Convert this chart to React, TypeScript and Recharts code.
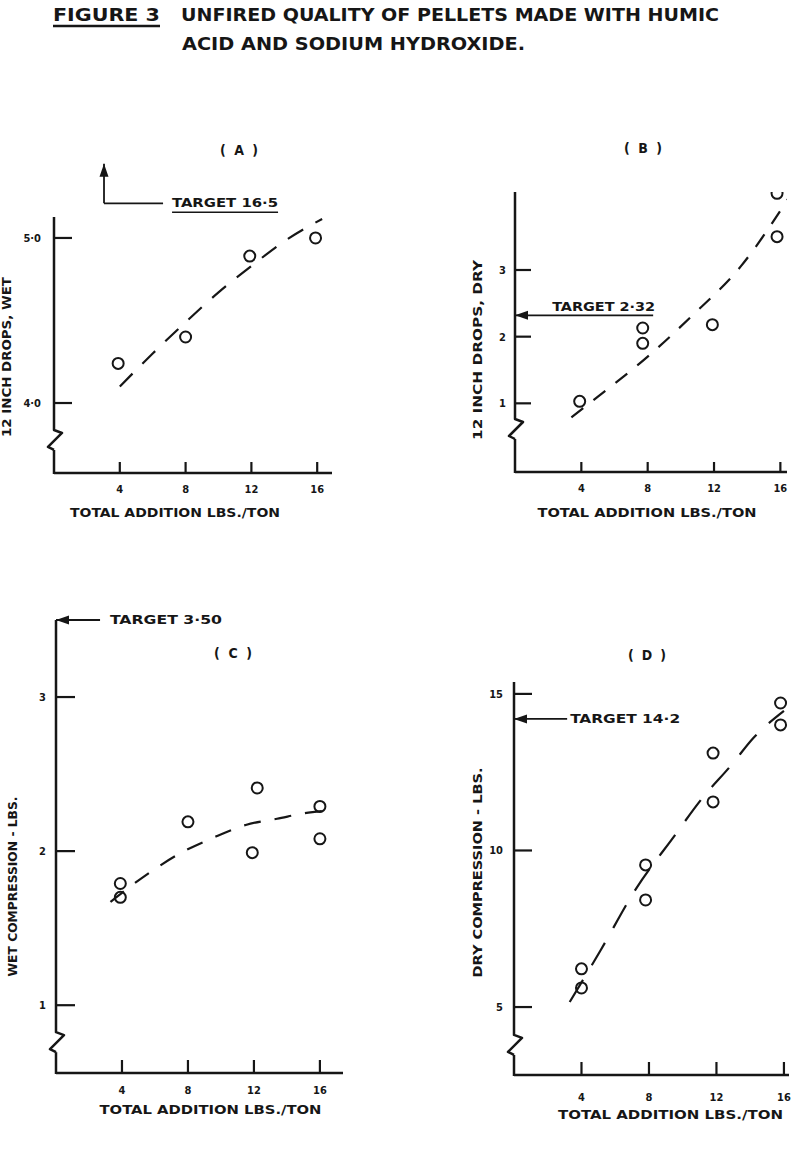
import React from 'react'
import { ComposedChart, Line, Scatter, XAxis, YAxis, ReferenceLine, Label } from 'recharts'

const INK = '#161616'
const FONT = "'DejaVu Sans Condensed', 'DejaVu Sans', sans-serif"

type Pt = { x: number; y: number }

// shared x axis: total addition, lbs/ton
const xTicks = [4, 8, 12, 16]

// (A) 12 inch drops, wet
const wetDropTicks = [4, 5]
const wetDropPoints: Pt[] = [
  { x: 3.9, y: 4.24 },
  { x: 8, y: 4.4 },
  { x: 11.9, y: 4.89 },
  { x: 15.9, y: 5.0 },
]
const wetDropTrend: Pt[] = [
  { x: 4, y: 4.1 },
  { x: 6, y: 4.3 },
  { x: 8, y: 4.49 },
  { x: 10, y: 4.67 },
  { x: 12, y: 4.83 },
  { x: 14, y: 4.98 },
  { x: 16.3, y: 5.115 },
]
const wetDropTarget = 16.5

// (B) 12 inch drops, dry
const dryDropTicks = [1, 2, 3]
const dryDropPoints: Pt[] = [
  { x: 3.9, y: 1.03 },
  { x: 7.7, y: 2.13 },
  { x: 7.7, y: 1.9 },
  { x: 11.9, y: 2.18 },
  { x: 15.8, y: 4.15 },
  { x: 15.8, y: 3.5 },
]
const dryDropTrend: Pt[] = [
  { x: 3.4, y: 0.79 },
  { x: 5, y: 1.1 },
  { x: 8, y: 1.7 },
  { x: 10.7, y: 2.32 },
  { x: 13.6, y: 3.05 },
  { x: 16.5, y: 4.08 },
]
const dryDropTarget = 2.32

// (C) wet compression, lbs
const wetCompTicks = [1, 2, 3]
const wetCompPoints: Pt[] = [
  { x: 3.9, y: 1.79 },
  { x: 3.9, y: 1.7 },
  { x: 8, y: 2.19 },
  { x: 12.2, y: 2.41 },
  { x: 11.9, y: 1.99 },
  { x: 16, y: 2.29 },
  { x: 16, y: 2.08 },
]
const wetCompTrend: Pt[] = [
  { x: 3.3, y: 1.67 },
  { x: 4.5, y: 1.77 },
  { x: 5.8, y: 1.87 },
  { x: 7.6, y: 1.99 },
  { x: 9.5, y: 2.085 },
  { x: 11.5, y: 2.17 },
  { x: 13.4, y: 2.21 },
  { x: 15.3, y: 2.25 },
  { x: 16.7, y: 2.265 },
]
const wetCompTarget = 3.5

// (D) dry compression, lbs
const dryCompTicks = [5, 10, 15]
const dryCompPoints: Pt[] = [
  { x: 4, y: 6.22 },
  { x: 4, y: 5.61 },
  { x: 7.8, y: 9.54 },
  { x: 7.8, y: 8.42 },
  { x: 11.8, y: 13.11 },
  { x: 11.8, y: 11.55 },
  { x: 15.8, y: 14.71 },
  { x: 15.8, y: 14.01 },
]
const dryCompTrend: Pt[] = [
  { x: 3.3, y: 5.16 },
  { x: 5.1, y: 6.78 },
  { x: 7.2, y: 8.75 },
  { x: 9.5, y: 10.46 },
  { x: 11.1, y: 11.63 },
  { x: 12.9, y: 12.74 },
  { x: 14.2, y: 13.6 },
  { x: 16, y: 14.46 },
]
const dryCompTarget = 14.2

const dot = (v: number, digits?: number) =>
  (digits == null ? String(v) : v.toFixed(digits)).replace('.', '·')

const txt = {
  fontFamily: FONT,
  fontWeight: 700,
  fill: INK,
}

const ring = (p: any) => (
  <circle cx={p.cx} cy={p.cy} r={5.5} fill="none" stroke={INK} strokeWidth={2} />
)

// y axis drawn in two pieces so the scale break ("Z") sits in the line
const axisUpper = (p: any) => {
  const { x1, y1, x2, y2 } = p
  return (
    <path
      d={`M${x1},${y1} L${x2},${y2 - 10} L${x2 + 8},${y2 - 7} L${x2 - 6},${y2 + 7} L${x2},${y2 + 10}`}
      fill="none"
      stroke={INK}
      strokeWidth={2.5}
      strokeLinejoin="round"
    />
  )
}

const axisLower = (p: any) => {
  const { x1, y1, x2, y2 } = p
  return <line x1={x1} y1={y1 + 10} x2={x2} y2={y2 + 1} stroke={INK} strokeWidth={2.5} />
}

type ArrowOpts = {
  head?: boolean
  text?: string
  dx?: number
  dy?: number
  anchor?: 'start' | 'end'
  length?: number
  underline?: boolean
}

const arrow = (o: ArrowOpts) => (p: any) => {
  const { x1, y1, x2, y2 } = p
  const a = Math.atan2(y2 - y1, x2 - x1)
  const L = 13
  const W = 4.5
  const bx = x2 - L * Math.cos(a)
  const by = y2 - L * Math.sin(a)
  const tx = x1 + (o.dx ?? 0)
  const ty = y1 + (o.dy ?? 0)
  const ux = o.anchor === 'end' ? tx - (o.length ?? 0) : tx
  return (
    <g>
      <line x1={x1} y1={y1} x2={x2} y2={y2} stroke={INK} strokeWidth={1.8} />
      {o.head && (
        <path
          d={`M${x2},${y2} L${bx - W * Math.sin(a)},${by + W * Math.cos(a)} L${bx + W * Math.sin(a)},${by - W * Math.cos(a)} Z`}
          fill={INK}
        />
      )}
      {o.text && (
        <text
          x={tx}
          y={ty}
          textAnchor={o.anchor ?? 'start'}
          textLength={o.length}
          lengthAdjust="spacingAndGlyphs"
          fontSize={12}
          {...txt}
        >
          {o.text}
        </text>
      )}
      {o.text && o.underline && (
        <line x1={ux} y1={ty + 5} x2={ux + (o.length ?? 0)} y2={ty + 5} stroke={INK} strokeWidth={1.6} />
      )}
    </g>
  )
}

type Layout = {
  left: number
  top: number
  width: number
  height: number
  margin: { top: number; right: number; bottom: number; left: number }
  yAxisWidth: number
  xAxisHeight: number
  xDomain: [number, number]
  yDomain: [number, number]
  dash: string
  yTickLen: number
  yTickGap: number
  xTickLen: number
  xTickGap: number
  xLabel: { text: string; dx: number; dy: number; length: number }
  yLabel: { text: string; dx: number; dy: number; length: number }
  breakAt: number
}

type PanelProps = {
  layout: Layout
  yTicks: number[]
  fmt: (v: number) => string
  points: Pt[]
  trend: Pt[]
  children?: React.ReactNode
}

const Panel = ({ layout: l, yTicks, fmt, points, trend, children }: PanelProps) => (
  <div style={{ position: 'absolute', left: l.left, top: l.top }}>
    <ComposedChart width={l.width} height={l.height} margin={l.margin}>
      <XAxis
        type="number"
        dataKey="x"
        domain={l.xDomain}
        ticks={xTicks}
        interval={0}
        allowDataOverflow
        height={l.xAxisHeight}
        tickSize={-l.xTickLen}
        tickMargin={l.xTickLen + l.xTickGap - 4}
        tickLine={{ stroke: INK, strokeWidth: 2.2 }}
        axisLine={{ stroke: INK, strokeWidth: 2.5 }}
        tick={{ ...txt, fontSize: 11 }}
      >
        <Label
          content={(p: any) => {
            const vb = p.viewBox
            if (!vb) return null
            return (
              <text
                x={vb.x + vb.width / 2 + l.xLabel.dx}
                y={vb.y + l.xLabel.dy}
                dy="0.36em"
                textAnchor="middle"
                textLength={l.xLabel.length}
                lengthAdjust="spacingAndGlyphs"
                fontSize={12}
                {...txt}
              >
                {l.xLabel.text}
              </text>
            )
          }}
        />
      </XAxis>
      <YAxis
        type="number"
        dataKey="y"
        domain={l.yDomain}
        ticks={yTicks}
        interval={0}
        allowDataOverflow
        width={l.yAxisWidth}
        tickSize={-l.yTickLen}
        tickMargin={l.yTickLen + l.yTickGap}
        tickLine={{ stroke: INK, strokeWidth: 2.2 }}
        axisLine={false}
        tick={{ ...txt, fontSize: 11 }}
        tickFormatter={fmt}
      >
        <Label
          content={(p: any) => {
            const vb = p.viewBox
            if (!vb) return null
            const cx = vb.x + vb.width + l.yLabel.dx
            const cy = vb.y + vb.height / 2 + l.yLabel.dy
            return (
              <text
                x={cx}
                y={cy}
                dy="0.36em"
                transform={`rotate(-90 ${cx} ${cy})`}
                textAnchor="middle"
                textLength={l.yLabel.length}
                lengthAdjust="spacingAndGlyphs"
                fontSize={12}
                {...txt}
              >
                {l.yLabel.text}
              </text>
            )
          }}
        />
      </YAxis>
      <ReferenceLine
        segment={[{ x: 0, y: l.yDomain[1] }, { x: 0, y: l.breakAt }]}
        ifOverflow="visible"
        shape={axisUpper}
      />
      <ReferenceLine
        segment={[{ x: 0, y: l.breakAt }, { x: 0, y: l.yDomain[0] }]}
        ifOverflow="visible"
        shape={axisLower}
      />
      <Line
        data={trend}
        dataKey="y"
        type="monotone"
        stroke={INK}
        strokeWidth={2.2}
        strokeDasharray={l.dash}
        dot={false}
        activeDot={false}
        isAnimationActive={false}
      />
      <Scatter data={points} dataKey="y" shape={ring} isAnimationActive={false} />
      {children}
    </ComposedChart>
  </div>
)

const X_TITLE = 'TOTAL ADDITION LBS./TON'

const layoutA: Layout = {
  left: 0,
  top: 130,
  width: 360,
  height: 400,
  margin: { top: 87, right: 28, bottom: 0, left: 0 },
  yAxisWidth: 54,
  xAxisHeight: 57,
  xDomain: [0, 16.9],
  yDomain: [3.576, 5.127],
  dash: '18 14',
  yTickLen: 18,
  yTickGap: 13,
  xTickLen: 11,
  xTickGap: 16,
  xLabel: { text: X_TITLE, dx: -18, dy: 40, length: 210 },
  yLabel: { text: '12 INCH DROPS, WET', dx: -47, dy: 12, length: 160 },
  breakAt: 3.776,
}

const layoutB: Layout = {
  left: 400,
  top: 130,
  width: 396,
  height: 400,
  margin: { top: 62, right: 9, bottom: 0, left: 0 },
  yAxisWidth: 115,
  xAxisHeight: 58,
  xDomain: [0, 16.4],
  yDomain: [-0.03, 4.17],
  dash: '15 13',
  yTickLen: 16,
  yTickGap: 9,
  xTickLen: 10,
  xTickGap: 16,
  xLabel: { text: X_TITLE, dx: -4, dy: 41, length: 219 },
  yLabel: { text: '12 INCH DROPS, DRY', dx: -37, dy: 18, length: 180 },
  breakAt: 0.615,
}

const layoutC: Layout = {
  left: 0,
  top: 600,
  width: 360,
  height: 529,
  margin: { top: 20, right: 17, bottom: 0, left: 0 },
  yAxisWidth: 56,
  xAxisHeight: 56,
  xDomain: [0, 17.4],
  yDomain: [0.56, 3.5],
  dash: '17 14',
  yTickLen: 19,
  yTickGap: 10,
  xTickLen: 13,
  xTickGap: 17,
  xLabel: { text: X_TITLE, dx: 11, dy: 37, length: 222 },
  yLabel: { text: 'WET COMPRESSION - LBS.', dx: -43, dy: 40, length: 180 },
  breakAt: 0.76,
}

const layoutD: Layout = {
  left: 400,
  top: 600,
  width: 396,
  height: 529,
  margin: { top: 82, right: 7, bottom: 0, left: 0 },
  yAxisWidth: 114,
  xAxisHeight: 54,
  xDomain: [0, 16.3],
  yDomain: [2.83, 15.38],
  dash: '26 17',
  yTickLen: 18,
  yTickGap: 11,
  xTickLen: 13,
  xTickGap: 22,
  xLabel: { text: X_TITLE, dx: 19, dy: 40, length: 225 },
  yLabel: { text: 'DRY COMPRESSION - LBS.', dx: -36, dy: -6, length: 210 },
  breakAt: 3.79,
}

const panelTitles = [
  { text: '( A )', x: 239, y: 150 },
  { text: '( B )', x: 643, y: 148 },
  { text: '( C )', x: 233, y: 653 },
  { text: '( D )', x: 647, y: 655 },
]

export default function App() {
  return (
    <div style={{ position: 'absolute', left: 0, top: 0, width: 796, height: 1149, background: '#fff' }}>
      <Panel layout={layoutA} yTicks={wetDropTicks} fmt={(v) => dot(v, 1)} points={wetDropPoints} trend={wetDropTrend}>
        <ReferenceLine
          segment={[{ x: 6.63, y: 5.21 }, { x: 3.04, y: 5.21 }]}
          ifOverflow="visible"
          shape={arrow({ text: `TARGET ${dot(wetDropTarget)}`, dx: 9, dy: 4, length: 106, underline: true })}
        />
        <ReferenceLine
          segment={[{ x: 3.04, y: 5.21 }, { x: 3.04, y: 5.45 }]}
          ifOverflow="visible"
          shape={arrow({ head: true })}
        />
      </Panel>
      <Panel layout={layoutB} yTicks={dryDropTicks} fmt={(v) => String(v)} points={dryDropPoints} trend={dryDropTrend}>
        <ReferenceLine
          segment={[{ x: 8.33, y: dryDropTarget }, { x: 0, y: dryDropTarget }]}
          ifOverflow="visible"
          shape={arrow({ head: true, text: `TARGET ${dot(dryDropTarget)}`, dx: 2, dy: -4, anchor: 'end', length: 103 })}
        />
      </Panel>
      <Panel layout={layoutC} yTicks={wetCompTicks} fmt={(v) => String(v)} points={wetCompPoints} trend={wetCompTrend}>
        <ReferenceLine
          segment={[{ x: 2.67, y: wetCompTarget }, { x: 0, y: wetCompTarget }]}
          ifOverflow="visible"
          shape={arrow({ head: true, text: `TARGET ${dot(wetCompTarget, 2)}`, dx: 10, dy: 4, length: 112 })}
        />
      </Panel>
      <Panel layout={layoutD} yTicks={dryCompTicks} fmt={(v) => String(v)} points={dryCompPoints} trend={dryCompTrend}>
        <ReferenceLine
          segment={[{ x: 3.15, y: dryCompTarget }, { x: 0, y: dryCompTarget }]}
          ifOverflow="visible"
          shape={arrow({ head: true, text: `TARGET ${dot(dryCompTarget)}`, dx: 3, dy: 4, length: 110 })}
        />
      </Panel>
      <svg
        width={796}
        height={1149}
        style={{ position: 'absolute', left: 0, top: 0, pointerEvents: 'none' }}
      >
        <text x={53} y={21} textLength={107} lengthAdjust="spacingAndGlyphs" fontSize={17} {...txt}>
          FIGURE 3
        </text>
        <line x1={53} y1={26} x2={160} y2={26} stroke={INK} strokeWidth={2.5} />
        <text x={181} y={21} textLength={538} lengthAdjust="spacingAndGlyphs" fontSize={17} {...txt}>
          UNFIRED QUALITY OF PELLETS MADE WITH HUMIC
        </text>
        <text x={182} y={50} textLength={343} lengthAdjust="spacingAndGlyphs" fontSize={17} {...txt}>
          ACID AND SODIUM HYDROXIDE.
        </text>
        {panelTitles.map((t) => (
          <text
            key={t.text}
            x={t.x}
            y={t.y}
            dy="0.36em"
            textAnchor="middle"
            textLength={38}
            lengthAdjust="spacing"
            fontSize={14}
            {...txt}
          >
            {t.text}
          </text>
        ))}
      </svg>
    </div>
  )
}
